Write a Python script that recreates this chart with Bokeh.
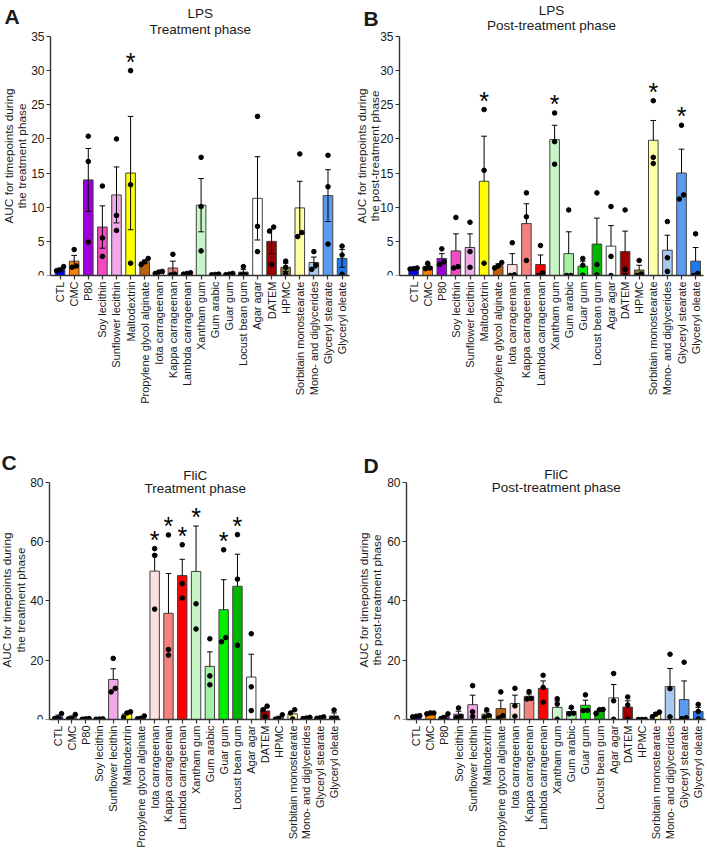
import math
from bokeh.plotting import figure
from bokeh.models import Range1d, FixedTicker, Label, LinearAxis
from bokeh.layouts import column, row
from bokeh.embed import file_html
from bokeh.resources import INLINE
from bokeh.core.properties import value

categories = ["CTL", "CMC", "P80", "Soy lecithin", "Sunflower lecithin", "Maltodextrin",
              "Propylene glycol alginate", "Iota carrageenan", "Kappa carrageenan",
              "Lambda carrageenan", "Xantham gum", "Gum arabic", "Guar gum", "Locust bean gum",
              "Agar agar", "DATEM", "HPMC", "Sorbitain monostearate", "Mono- and diglycerides",
              "Glyceryl stearate", "Glyceryl oleate"]

bar_colors = ["#0000FF", "#FF7F00", "#9B00D9", "#F24BC4", "#F0A8E6", "#FFFF00",
              "#C0600A", "#FDE0E0", "#F4817C", "#FF0000", "#C8F5C8", "#A4F0A4",
              "#00F000", "#00B400", "#FFFFFF", "#9C0000", "#8B7B3A", "#FFFFA8",
              "#A8C8F0", "#5A9AF0", "#1E78F0"]

# Panel A: LPS, treatment phase
lps_treat_mean = [0.9, 2.1, 14.0, 7.1, 11.8, 15.0, 2.0, 0.5, 1.1, 0.3, 10.3, 0.15, 0.2, 0.5,
                  11.3, 5.0, 1.2, 9.9, 1.9, 11.7, 2.5]
lps_treat_sem = [0.2, 0.85, 4.6, 3.1, 4.1, 8.3, 0.25, 0.1, 1.0, 0.05, 3.9, 0.05, 0.07, 0.4,
                 6.1, 1.8, 0.6, 3.9, 0.8, 3.8, 1.3]
lps_treat_pts = [[1.3, 0.8, 0.7], [3.8, 1.4, 1.2], [20.4, 16.7, 4.9], [13.1, 5.5, 2.8],
                 [20.0, 8.8, 6.6], [30.0, 13.3, 1.8], [2.5, 2.0, 1.6], [0.6, 0.5, 0.3],
                 [3.1, 0.2, 0.1], [0.4, 0.3, 0.2], [17.3, 10.1, 3.6], [0.2, 0.15, 0.1],
                 [0.3, 0.2, 0.1], [1.3, 0.1, 0.1], [23.3, 7.2, 3.5], [7.1, 6.5, 1.6],
                 [2.1, 1.2, 0.2], [17.8, 6.3, 5.7], [3.5, 1.5, 0.9], [17.6, 13.0, 4.6],
                 [4.3, 3.0, 0.2]]
lps_treat_stars = ["Maltodextrin"]

# Panel B: LPS, post-treatment phase
lps_post_mean = [1.0, 1.3, 2.5, 3.6, 4.1, 13.8, 1.45, 1.6, 7.6, 1.6, 19.9, 3.2, 1.35, 4.6,
                 4.3, 3.5, 0.8, 19.8, 3.7, 15.0, 2.1]
lps_post_sem = [0.05, 0.25, 0.7, 2.5, 2.0, 6.6, 0.25, 1.6, 2.9, 1.4, 2.1, 3.2, 0.75, 3.8,
                3.0, 3.0, 0.7, 2.9, 2.2, 3.5, 2.0]
lps_post_pts = [[1.1, 1.0, 0.95], [1.8, 1.1, 1.0], [3.9, 2.0, 1.6], [8.5, 1.3, 1.1],
                [7.8, 3.5, 1.2], [24.3, 15.4, 1.8], [1.9, 1.4, 1.1], [4.8, 0.1, 0.0],
                [12.1, 8.6, 2.2], [4.4, 0.4, 0.0], [23.8, 19.6, 16.3], [9.6, 0.0, 0.0],
                [2.5, 1.5, 0.05], [12.1, 1.6, 0.1], [10.1, 2.8, 0.0], [9.6, 0.9, 0.0],
                [2.2, 0.2, 0.0], [25.6, 17.3, 16.4], [7.9, 2.6, 0.6], [22.0, 11.8, 11.2],
                [6.1, 0.3, 0.0]]
lps_post_stars = ["Maltodextrin", "Xantham gum", "Sorbitain monostearate", "Glyceryl stearate"]

# Panel C: FliC, treatment phase (one Xantham gum value lies above the axis range)
flic_treat_mean = [0.9, 0.7, 0.2, 0.15, 13.5, 1.9, 0.6, 50.0, 35.8, 48.5, 49.9, 17.9, 37.0,
                   44.9, 14.3, 2.9, 0.6, 1.9, 0.5, 0.6, 1.2]
flic_treat_sem = [0.6, 0.5, 0.05, 0.05, 3.6, 0.6, 0.3, 5.6, 13.4, 5.5, 15.3, 4.9, 10.1,
                  10.8, 7.7, 1.0, 0.5, 0.9, 0.15, 0.15, 1.0]
flic_treat_pts = [[2.0, 0.5, 0.3], [1.7, 0.3, 0.2], [0.3, 0.2, 0.1], [0.2, 0.15, 0.1],
                  [20.6, 10.5, 9.3], [2.6, 2.2, 0.8], [1.2, 0.4, 0.2], [57.6, 55.3, 37.2],
                  [62.2, 23.6, 21.7], [58.9, 45.8, 40.9], [39.0, 30.5, None],
                  [27.2, 14.7, 11.7], [57.2, 27.6, 26.2], [62.3, 47.3, 25.0],
                  [28.9, 11.0, 3.0], [4.5, 3.3, 1.0], [1.6, 0.2, 0.1], [3.3, 2.2, 0.2],
                  [0.7, 0.5, 0.3], [0.9, 0.6, 0.4], [3.2, 0.3, 0.2]]
flic_treat_stars = ["Iota carrageenan", "Kappa carrageenan", "Lambda carrageenan",
                    "Xantham gum", "Guar gum", "Locust bean gum"]

# Panel D: FliC, post-treatment phase
flic_post_mean = [1.1, 2.1, 0.9, 1.8, 5.0, 1.8, 3.7, 5.4, 7.8, 10.5, 4.1, 2.7, 4.8, 2.9,
                  7.3, 4.2, 0.0, 1.7, 11.1, 6.7, 2.7]
flic_post_sem = [0.1, 0.1, 0.5, 1.0, 3.2, 0.75, 2.8, 2.8, 0.8, 2.5, 2.1, 1.0, 1.7, 0.5,
                 4.5, 2.1, 0.0, 0.6, 6.1, 6.3, 1.4]
flic_post_pts = [[1.3, 1.1, 0.9], [2.2, 2.2, 1.9], [1.9, 0.5, 0.3], [3.9, 1.0, 0.6],
                 [11.4, 2.6, 1.0], [3.3, 1.3, 0.8], [9.3, 1.3, 0.5], [10.5, 4.6, 1.1],
                 [9.4, 7.1, 6.9], [14.9, 10.8, 5.8], [7.0, 5.2, 0.1], [4.1, 2.1, 1.9],
                 [8.3, 3.1, 3.0], [3.4, 3.3, 2.0], [15.5, 6.3, 0.1], [7.6, 4.9, 0.1],
                 [0.0, 0.0, 0.0], [2.5, 1.8, 0.9], [22.0, 10.4, 0.9], [19.3, 0.6, 0.3],
                 [5.1, 2.7, 0.2]]
flic_post_stars = []

lps_ticks = [0, 5, 10, 15, 20, 25, 30, 35]
flic_ticks = [0, 20, 40, 60, 80]

FONT = "Liberation Sans"
AXIS_COLOR = "#333333"
TEXT_COLOR = "#1a1a1a"


def spread(vals, unit_px):
    """Horizontal offsets for dots that would overlap (in x data units)."""
    idx = [i for i, v in enumerate(vals) if v is not None]
    idx.sort(key=lambda i: vals[i])
    offs = {}
    groups, cur = [], []
    for i in idx:
        if cur and abs(vals[i] - vals[cur[-1]]) * unit_px > 4.5:
            groups.append(cur)
            cur = []
        cur.append(i)
    if cur:
        groups.append(cur)
    for g in groups:
        pattern = {1: [0.0], 2: [-0.15, 0.15], 3: [-0.25, 0.0, 0.25]}[len(g)]
        for i, o in zip(g, pattern):
            offs[i] = o
    return offs


def make_panel(letter, title1, title2, ylab2, means, sems, pts, stars, ticks, both_err,
               geom):
    fig_w, fig_h = geom["w"], geom["h"]
    axis_x, x_lo, x_px, x_hi = geom["axis_x"], geom["x_lo"], geom["x_px"], geom["x_hi"]
    axis_top, axis_bottom = geom["axis_top"], geom["axis_bottom"]
    ymax = ticks[-1]
    y_px = (axis_bottom - axis_top) / ymax
    x_range = Range1d(x_lo - axis_x / x_px, x_lo + (fig_w - axis_x) / x_px)
    y_range = Range1d(0, ymax + axis_top / y_px)

    p = figure(width=fig_w, height=fig_h, output_backend="svg", toolbar_location=None,
               title=None, x_range=x_range, y_range=y_range, y_axis_location=None,
               min_border_left=0, min_border_right=0, min_border_top=0,
               min_border_bottom=fig_h - axis_bottom, background_fill_color="white",
               border_fill_color="white")
    p.outline_line_color = None
    p.xgrid.visible = False
    p.ygrid.visible = False

    xs = list(range(len(categories)))

    p.vbar(x=xs, top=means, width=0.68, fill_color=bar_colors, line_color="#404040",
           line_width=1)

    # error bars (SEM)
    x0, y0, x1, y1 = [], [], [], []
    for i, (m, s) in enumerate(zip(means, sems)):
        lo = m - s if both_err else m
        x0 += [i, i - 0.2]
        y0 += [lo, m + s]
        x1 += [i, i + 0.2]
        y1 += [m + s, m + s]
        if both_err:
            x0.append(i - 0.2); y0.append(lo); x1.append(i + 0.2); y1.append(lo)
    p.segment(x0=x0, y0=y0, x1=x1, y1=y1, line_color="black", line_width=1)

    # individual points
    px, py = [], []
    for i, vals in enumerate(pts):
        offs = spread(vals, y_px)
        for j, v in enumerate(vals):
            if v is None:
                continue
            px.append(i + offs[j])
            py.append(v)
    p.scatter(x=px, y=py, size=4.6, fill_color="black", line_color="black")

    # significance stars
    sx, sy = [], []
    for name in stars:
        i = categories.index(name)
        top_val = max([v for v in pts[i] if v is not None] + [means[i] + sems[i]])
        sx.append(i)
        sy.append(top_val)
    if sx:
        p.text(x=sx, y=sy, text=["*"] * len(sx), text_font=value(FONT),
               text_font_size="25px", text_align="center", text_baseline="alphabetic",
               y_offset=-9, text_color="black")

    # x axis
    p.xaxis.bounds = (x_lo, x_hi)
    p.xaxis.ticker = FixedTicker(ticks=xs)
    p.xaxis.major_label_overrides = {i: c for i, c in enumerate(categories)}
    p.xaxis.major_label_orientation = math.pi / 2
    p.xaxis.major_tick_out = 4
    p.xaxis.major_tick_in = 0
    p.xaxis.minor_tick_line_color = None
    p.xaxis.major_label_standoff = 2
    p.xaxis.major_label_text_font = FONT
    p.xaxis.major_label_text_font_size = "11px"
    p.xaxis.major_label_text_color = TEXT_COLOR

    # y axis, drawn at the left end of the category axis
    yax = LinearAxis(fixed_location=x_lo, bounds=(0, ymax), ticker=FixedTicker(ticks=ticks))
    yax.major_tick_out = 4
    yax.major_tick_in = 0
    yax.minor_tick_line_color = None
    yax.major_label_standoff = 2
    yax.major_label_text_font = FONT
    yax.major_label_text_font_size = "12px"
    yax.major_label_text_color = TEXT_COLOR
    p.add_layout(yax, "left")

    for ax in (p.xaxis[0], yax):
        ax.axis_line_color = AXIS_COLOR
        ax.axis_line_width = 1.4
        ax.major_tick_line_color = AXIS_COLOR
        ax.major_tick_line_width = 1.2

    def lab(text, fx, fy, **kw):
        p.add_layout(Label(x=fx, y=axis_bottom - fy, x_units="screen",
                           y_units="screen", text=text, text_font=FONT,
                           text_color=TEXT_COLOR, **kw))

    centre = axis_x + (x_hi - x_lo) * x_px / 2
    lab(letter, geom["letter_x"], geom["letter_top"], text_font_size="21px",
        text_font_style="bold", text_baseline="top", text_align="left")
    lab(title1, centre, geom["t1"], text_font_size="13.5px", text_align="center",
        text_baseline="alphabetic")
    lab(title2, centre, geom["t2"], text_font_size="13.5px", text_align="center",
        text_baseline="alphabetic")
    mid = (axis_top + axis_bottom) / 2
    lab("AUC for timepoints during", geom["yl1"], mid, text_font_size="11.8px",
        text_align="center", text_baseline="middle", angle=math.pi / 2)
    lab(ylab2, geom["yl2"], mid, text_font_size="11.8px",
        text_align="center", text_baseline="middle", angle=math.pi / 2)
    return p


geom_A = dict(w=350, h=428, axis_x=50, x_lo=-0.68, x_px=14.1, x_hi=20.55,
              axis_top=36, axis_bottom=275, letter_x=4, letter_top=4, t1=13.3, t2=29.3,
              yl1=8.3, yl2=21.5)
geom_B = dict(w=357, h=428, axis_x=49, x_lo=-1.0, x_px=14.1, x_hi=20.55,
              axis_top=36, axis_bottom=275, letter_x=13, letter_top=6, t1=10, t2=25,
              yl1=11, yl2=24)
geom_C = dict(w=350, h=422, axis_x=49, x_lo=-0.62, x_px=13.8, x_hi=20.5,
              axis_top=54, axis_bottom=293, letter_x=1, letter_top=24, t1=49, t2=62,
              yl1=6.7, yl2=20.5)
geom_D = dict(w=357, h=422, axis_x=56, x_lo=-0.69, x_px=14.1, x_hi=20.55,
              axis_top=54, axis_bottom=293, letter_x=13, letter_top=27, t1=48, t2=61,
              yl1=13, yl2=26.5)

pA = make_panel("A", "LPS", "Treatment phase", "the treatment phase",
                lps_treat_mean, lps_treat_sem, lps_treat_pts, lps_treat_stars, lps_ticks,
                True, geom_A)
pB = make_panel("B", "LPS", "Post-treatment phase", "the post-treatment phase",
                lps_post_mean, lps_post_sem, lps_post_pts, lps_post_stars, lps_ticks,
                False, geom_B)
pC = make_panel("C", "FliC", "Treatment phase", "the treatment phase",
                flic_treat_mean, flic_treat_sem, flic_treat_pts, flic_treat_stars, flic_ticks,
                False, geom_C)
pD = make_panel("D", "FliC", "Post-treatment phase", "the post-treatment phase",
                flic_post_mean, flic_post_sem, flic_post_pts, flic_post_stars, flic_ticks,
                False, geom_D)

layout = column(row(pA, pB), row(pC, pD))
open("out.html", "w").write(file_html(layout, INLINE))
